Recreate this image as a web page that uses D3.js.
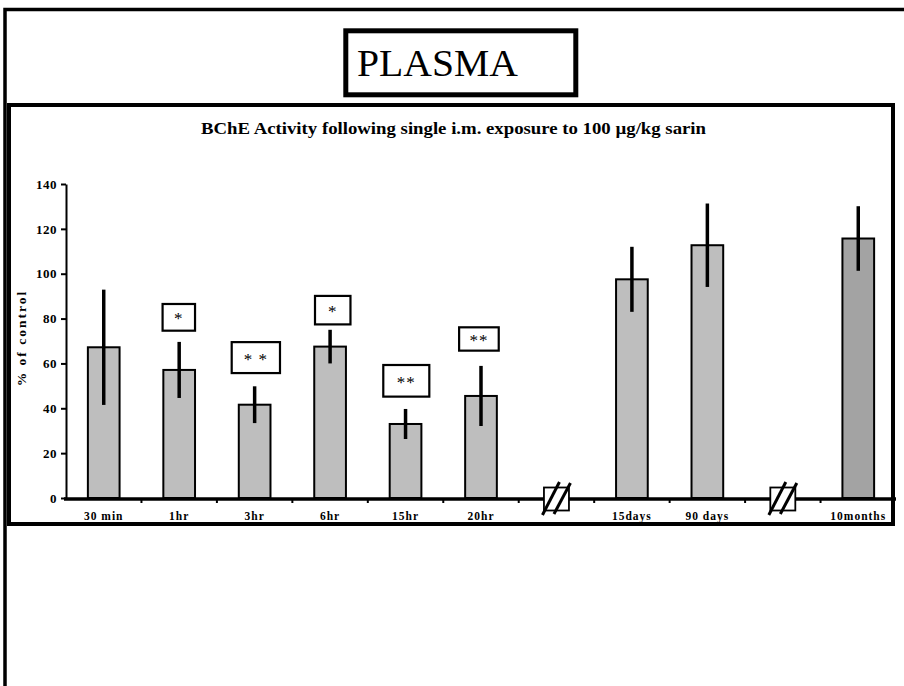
<!DOCTYPE html>
<html>
<head>
<meta charset="utf-8">
<script src="https://cdn.jsdelivr.net/npm/d3@7"></script>
<style>
  html, body { margin: 0; padding: 0; background: #fff; }
  svg { display: block; }
  text { font-family: "Liberation Serif", "DejaVu Serif", serif; }
</style>
</head>
<body>
<svg id="chart" width="904" height="686"></svg>
<script>
// ---- data ----
const categories = ["30 min", "1hr", "3hr", "6hr", "15hr", "20hr", "break1", "15days", "90 days", "break2", "10months"];
const tickLabels = ["30 min", "1hr", "3hr", "6hr", "15hr", "20hr", "", "15days", "90 days", "", "10months"];
const meanValues = [67.2, 57.1, 41.6, 67.5, 33.0, 45.5, null, 97.5, 112.7, null, 115.7];
const errorValues = [25.7, 12.5, 8.2, 7.5, 6.7, 13.4, null, 14.5, 18.6, null, 14.4];
const breakCategories = ["break1", "break2"];
const yTicks = [0, 20, 40, 60, 80, 100, 120, 140];
// significance markers: category, text, value range of the box
const sigCategories = ["1hr", "3hr", "6hr", "15hr", "20hr"];
const sigLabels = ["*", "* *", "*", "**", "**"];
const sigTop = [86.5, 69.5, 90.1, 59.3, 76.1];
const sigBottom = [74.6, 55.7, 77.4, 45.2, 65.7];
const sigFrom = [0.28, 0.196, 0.30, 0.205, 0.21];
const sigTo = [0.71, 0.836, 0.77, 0.815, 0.735];
const titleText = "BChE Activity following single i.m. exposure to 100 µg/kg sarin";
const yLabel = "% of control";
const panelLabel = "PLASMA";

// ---- drawing ----
const svg = d3.select("#chart");
svg.append("rect").attr("width", 904).attr("height", 686).attr("fill", "#fff");

// outer frame (top + left)
svg.append("path").attr("d", "M5,686 V9.5 H904").attr("fill", "none")
  .attr("stroke", "#000").attr("stroke-width", 3.5);

// PLASMA box
svg.append("rect").attr("x", 345.8).attr("y", 30.8).attr("width", 230).attr("height", 64)
  .attr("fill", "#fff").attr("stroke", "#000").attr("stroke-width", 5);
svg.append("text").attr("x", 357).attr("y", 76).attr("font-size", 37)
  .attr("textLength", 161).attr("lengthAdjust", "spacingAndGlyphs").text(panelLabel);

// chart box
svg.append("rect").attr("x", 9).attr("y", 105).attr("width", 884).attr("height", 419)
  .attr("fill", "#fff").attr("stroke", "#000").attr("stroke-width", 4);

// title
svg.append("text").attr("x", 201).attr("y", 134).attr("font-size", 17).attr("font-weight", "bold")
  .attr("textLength", 505).attr("lengthAdjust", "spacingAndGlyphs").text(titleText);

// scales
const x = d3.scaleBand().domain(categories).range([66, 896]).padding(0);
const y = d3.scaleLinear().domain([0, 140]).range([498, 184]);
const bw = x.bandwidth();

// y axis
const yAxis = svg.append("g").attr("transform", "translate(66,0)")
  .call(d3.axisLeft(y).tickValues(yTicks).tickSize(5).tickPadding(4).tickSizeOuter(0));
yAxis.select(".domain").attr("stroke-width", 2);
yAxis.selectAll(".tick line").attr("stroke-width", 2);
yAxis.selectAll(".tick text").attr("font-family", "Liberation Serif").attr("font-size", 13)
  .attr("font-weight", "bold").attr("fill", "#000").attr("letter-spacing", 0.5);

// y label
svg.append("text").attr("transform", "translate(26,338) rotate(-90)").attr("text-anchor", "middle")
  .attr("font-size", 13.5).attr("font-weight", "bold").attr("letter-spacing", 2).text(yLabel);

// bars
const barData = categories.map((c, i) => ({ c, v: meanValues[i], e: errorValues[i], i }))
  .filter(d => d.v !== null);
svg.append("g").selectAll("rect").data(barData).join("rect")
  .attr("x", d => x(d.c) + bw * 0.29)
  .attr("width", bw * 0.42)
  .attr("y", d => y(d.v))
  .attr("height", d => y(0) - y(d.v))
  .attr("fill", d => d.c === "10months" ? "#a3a3a3" : "#bebebe")
  .attr("stroke", "#000").attr("stroke-width", 2);

// error bars
svg.append("g").selectAll("line").data(barData).join("line")
  .attr("x1", d => x(d.c) + bw / 2).attr("x2", d => x(d.c) + bw / 2)
  .attr("y1", d => y(d.v + d.e)).attr("y2", d => y(d.v - d.e))
  .attr("stroke", "#000").attr("stroke-width", 3.5);

// x axis line
svg.append("line").attr("x1", 64).attr("x2", 896).attr("y1", y(0) + 1).attr("y2", y(0) + 1)
  .attr("stroke", "#000").attr("stroke-width", 3.5);

// x tick dots at band boundaries
const boundaries = categories.map(c => x(c)).concat([x.range()[1]]);
svg.append("g").selectAll("line").data(boundaries.slice(1, -1)).join("line")
  .attr("x1", d => d).attr("x2", d => d).attr("y1", y(0) + 2).attr("y2", y(0) + 5)
  .attr("stroke", "#000").attr("stroke-width", 2);

// x labels
svg.append("g").selectAll("text").data(categories).join("text")
  .attr("x", c => x(c) + bw / 2).attr("y", 520).attr("text-anchor", "middle")
  .attr("font-size", 11.5).attr("font-weight", "bold").attr("letter-spacing", 1)
  .text((c, i) => tickLabels[i]);

// break markers
const brk = svg.append("g").selectAll("g").data(breakCategories).join("g")
  .attr("transform", c => `translate(${x(c) + bw / 2},${y(0) + 1})`);
brk.append("rect").attr("x", -12.5).attr("y", -11.5).attr("width", 25).attr("height", 23)
  .attr("fill", "#fff").attr("stroke", "#000").attr("stroke-width", 1.8);
brk.append("line").attr("x1", -14).attr("y1", 16).attr("x2", 3).attr("y2", -17)
  .attr("stroke", "#000").attr("stroke-width", 3);
brk.append("line").attr("x1", -2.5).attr("y1", 15).attr("x2", 14).attr("y2", -16)
  .attr("stroke", "#000").attr("stroke-width", 3);

// significance boxes
const sigData = sigCategories.map((c, i) => ({ c, t: sigLabels[i], top: sigTop[i], bot: sigBottom[i], a: sigFrom[i], b: sigTo[i] }));
const sg = svg.append("g").selectAll("g").data(sigData).join("g");
sg.append("rect")
  .attr("x", d => x(d.c) + bw * d.a).attr("width", d => bw * (d.b - d.a))
  .attr("y", d => y(d.top)).attr("height", d => y(d.bot) - y(d.top))
  .attr("fill", "#fff").attr("stroke", "#000").attr("stroke-width", 2.2);
sg.append("text")
  .attr("x", d => x(d.c) + bw * (d.a + d.b) / 2)
  .attr("y", d => (y(d.top) + y(d.bot)) / 2 + 7)
  .attr("text-anchor", "middle").attr("font-size", 17).attr("letter-spacing", 1)
  .text(d => d.t);
</script>
</body>
</html>
